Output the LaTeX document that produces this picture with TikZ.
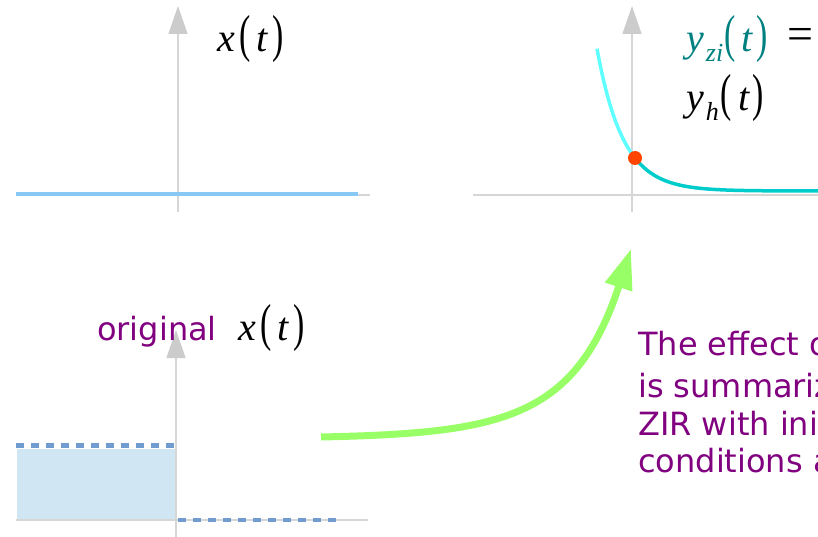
\documentclass[tikz,border=0pt]{standalone}
\usepackage{graphicx}
\usepackage{fontspec}
\setmainfont{DejaVu Sans}
\newfontfamily\msf{Liberation Serif}
\usetikzlibrary{arrows.meta}
\definecolor{axisgray}{RGB}{214,214,214}
\definecolor{headgray}{RGB}{204,204,204}
\definecolor{sigblue}{RGB}{135,200,245}
\definecolor{dashblue}{RGB}{112,156,208}
\definecolor{fillblue}{RGB}{208,230,243}
\definecolor{lightcyan}{RGB}{95,255,255}
\definecolor{darkcyan}{RGB}{0,204,204}
\definecolor{dotred}{RGB}{255,69,0}
\definecolor{tealtxt}{RGB}{0,128,128}
\definecolor{purp}{RGB}{128,0,128}
\definecolor{arrgreen}{RGB}{153,255,102}
\newcommand{\bigp}[1]{\scalebox{0.65}[1]{\fontsize{52}{56}\selectfont\msf #1}}
\newcommand{\mvar}[1]{{\fontsize{40}{48}\selectfont\msf\itshape #1}}
\begin{document}
\begin{tikzpicture}[x=1pt,y=-1pt,
  axis/.style={axisgray,line width=1.3pt},
  yaxis/.style={axisgray,line width=1.3pt,-{Triangle[length=28pt,width=19pt,fill=headgray,color=headgray]}},
  lbl/.style={anchor=base west,inner sep=0pt},
  ptxt/.style={anchor=base west,inner sep=0pt,text=purp,font=\fontsize{32}{38}\selectfont}]
\useasboundingbox (0,0) rectangle (818,537);
\begin{scope}
\clip (0,0) rectangle (818,537);
% top-left panel
\coordinate (a1b) at (178,212);
\coordinate (a1t) at (178,6);
\coordinate (h1l) at (16,195);
\coordinate (h1r) at (370,195);
\draw[axis] (h1l) -- (h1r);
\draw[yaxis] (a1b) -- (a1t);
\coordinate (s1l) at (16,194);
\coordinate (s1r) at (358,194);
\draw[sigblue,line width=4.5pt] (s1l) -- (s1r);
\node[lbl] (xt1) at (217,52) {\mvar{x}\hspace{5pt}\bigp{(}\hspace{5pt}\mvar{t}\hspace{5pt}\bigp{)}};
% top-right panel
\coordinate (a2b) at (632,212);
\coordinate (a2t) at (632,6);
\coordinate (h2l) at (473,195);
\coordinate (h2r) at (818,195);
\draw[axis] (h2l) -- (h2r);
\draw[yaxis] (a2b) -- (a2t);
\draw[lightcyan,line width=3.5pt] plot[domain=597:634,samples=30] (\x,{191-33*exp(-(\x-635)/26)});
\draw[darkcyan,line width=3.5pt] plot[domain=634:820,samples=60] (\x,{191-33*exp(-(\x-635)/26)});
\node[circle,fill=dotred,inner sep=0pt,minimum size=14pt] (dot) at (635,158) {};
\node[lbl,text=tealtxt] (yzi) at (686,52) {\mvar{y}\hspace{2pt}\raisebox{-10pt}{\fontsize{26}{26}\selectfont\msf\itshape zi}\hspace{1pt}\bigp{(}\hspace{6pt}\mvar{t}\hspace{4pt}\bigp{)}};
\node[lbl] (eq) at (787,50) {\fontsize{46}{50}\selectfont\msf =};
\node[lbl] (yh) at (686,111) {\mvar{y}\hspace{2pt}\raisebox{-10pt}{\fontsize{26}{26}\selectfont\msf\itshape h}\hspace{2pt}\bigp{(}\hspace{6pt}\mvar{t}\hspace{3pt}\bigp{)}};
% bottom-left panel
\fill[fillblue] (17,449) rectangle (175,520);
\coordinate (a3b) at (176,537);
\coordinate (a3t) at (176,330);
\coordinate (h3l) at (16,520);
\coordinate (h3r) at (368,520);
\draw[axis] (h3l) -- (h3r);
\draw[yaxis] (a3b) -- (a3t);
\coordinate (d1l) at (16,445.5);
\coordinate (d1r) at (175,445.5);
\coordinate (d2l) at (178,520);
\coordinate (d2r) at (340,520);
\draw[dashblue,line width=4.5pt,dash pattern=on 7.5pt off 7.5pt] (d1l) -- (d1r);
\draw[dashblue,line width=4.5pt,dash pattern=on 7.5pt off 7.5pt] (d2l) -- (d2r);
\node[ptxt] (orig) at (97,340) {original};
\node[lbl] (xt3) at (238,340) {\mvar{x}\hspace{5pt}\bigp{(}\hspace{5pt}\mvar{t}\hspace{5pt}\bigp{)}};
% green arrow
\coordinate (gs) at (321,437);
\coordinate (ge) at (631,249);
\draw[arrgreen,line width=7pt,-{Triangle[length=40pt,width=27pt]}] (gs) .. controls (500,433) and (575,420) .. (ge);
% text
\node[ptxt] (t1) at (638,355) {The effect of};
\node[ptxt] (t2) at (638,397) {is summarized};
\node[ptxt] (t3) at (638,435) {ZIR with initial};
\node[ptxt] (t4) at (638,472) {conditions at};
\end{scope}
\end{tikzpicture}
\end{document}
